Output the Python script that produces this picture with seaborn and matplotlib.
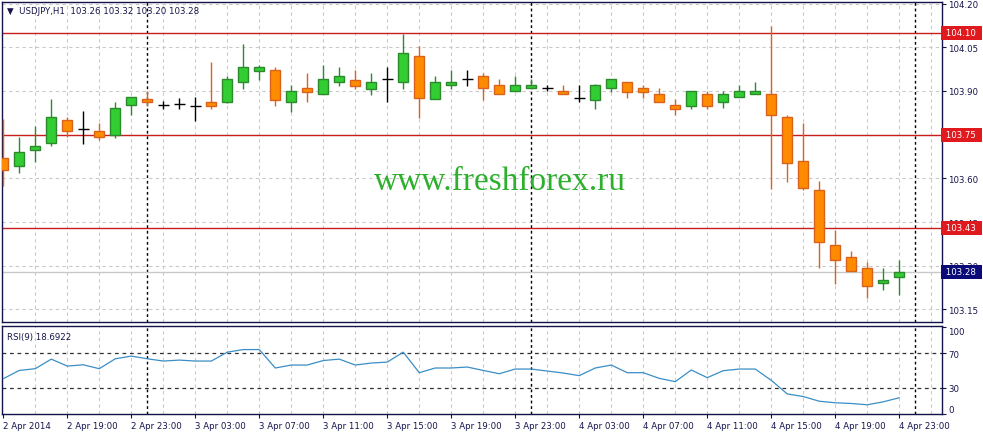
import numpy as np
import pandas as pd
import matplotlib
matplotlib.use('Agg')
import matplotlib.pyplot as plt
import seaborn as sns

# USDJPY H1, 2 Apr 2014 15:00 .. 4 Apr 2014 23:00 (57 bars)
opens = [103.669, 103.641, 103.699, 103.720, 103.800, 103.770, 103.762, 103.749, 103.851, 103.873,
         103.852, 103.855, 103.850, 103.861, 103.861, 103.930, 103.970, 103.972, 103.861, 103.909,
         103.889, 103.930, 103.939, 103.907, 103.941, 103.930, 104.019, 103.871, 103.920, 103.941,
         103.950, 103.920, 103.899, 103.909, 103.909, 103.900, 103.876, 103.870, 103.909, 103.930,
         103.909, 103.889, 103.851, 103.850, 103.889, 103.861, 103.878, 103.889, 103.889, 103.810,
         103.659, 103.559, 103.370, 103.329, 103.291, 103.240, 103.260]
highs = [103.804, 103.741, 103.781, 103.873, 103.812, 103.832, 103.790, 103.863, 103.880, 103.899,
         103.867, 103.875, 103.878, 104.001, 103.953, 104.061, 103.989, 103.981, 103.921, 103.962,
         103.989, 103.983, 103.973, 103.962, 103.981, 104.096, 104.053, 103.953, 103.973, 103.972,
         103.962, 103.941, 103.953, 103.941, 103.921, 103.921, 103.921, 103.925, 103.940, 103.930,
         103.921, 103.909, 103.871, 103.899, 103.899, 103.899, 103.921, 103.932, 104.122, 103.819,
         103.790, 103.590, 103.424, 103.350, 103.312, 103.291, 103.320]
lows = [103.575, 103.618, 103.657, 103.710, 103.741, 103.718, 103.732, 103.740, 103.819, 103.847,
        103.838, 103.838, 103.798, 103.838, 103.858, 103.907, 103.939, 103.850, 103.829, 103.861,
        103.889, 103.918, 103.907, 103.887, 103.861, 103.907, 103.808, 103.871, 103.907, 103.918,
        103.870, 103.889, 103.899, 103.909, 103.899, 103.889, 103.861, 103.838, 103.898, 103.877,
        103.877, 103.861, 103.819, 103.838, 103.838, 103.841, 103.878, 103.889, 103.564, 103.589,
        103.559, 103.291, 103.237, 103.281, 103.190, 103.218, 103.200]
closes = [103.630, 103.690, 103.711, 103.810, 103.762, 103.770, 103.741, 103.841, 103.878, 103.861,
          103.852, 103.855, 103.850, 103.850, 103.941, 103.981, 103.981, 103.870, 103.899, 103.898,
          103.941, 103.950, 103.918, 103.930, 103.941, 104.029, 103.877, 103.930, 103.930, 103.941,
          103.909, 103.889, 103.920, 103.920, 103.909, 103.889, 103.876, 103.921, 103.940, 103.898,
          103.898, 103.861, 103.839, 103.899, 103.850, 103.889, 103.899, 103.900, 103.819, 103.652,
          103.568, 103.381, 103.319, 103.281, 103.230, 103.250, 103.280]
rsi = [40.6, 50.1, 52.1, 63.1, 55.1, 56.6, 52.1, 63.5, 66.6, 63.5,
       60.9, 62.0, 60.9, 60.9, 71.1, 74.1, 74.1, 52.9, 56.3, 56.3,
       61.5, 63.1, 56.3, 58.6, 59.7, 71.1, 47.5, 52.9, 52.9, 54.0,
       50.1, 46.3, 51.7, 51.7, 49.4, 47.1, 44.1, 52.9, 56.3, 47.5,
       47.5, 41.0, 37.2, 50.6, 41.8, 49.8, 51.7, 51.7, 38.7, 23.1,
       20.1, 14.7, 12.9, 12.1, 10.6, 14.0, 18.69]

time_labels = ['2 Apr 2014', '2 Apr 19:00', '2 Apr 23:00', '3 Apr 03:00', '3 Apr 07:00',
               '3 Apr 11:00', '3 Apr 15:00', '3 Apr 19:00', '3 Apr 23:00', '4 Apr 03:00',
               '4 Apr 07:00', '4 Apr 11:00', '4 Apr 15:00', '4 Apr 19:00', '4 Apr 23:00']
grid_prices = [104.20, 104.05, 103.90, 103.75, 103.60, 103.45, 103.30, 103.15]
price_ticks = [104.20, 104.05, 103.90, 103.60, 103.45, 103.30, 103.15]  # 103.75 sits under its box
levels = [104.10, 103.75, 103.43]
bid = 103.28
day_breaks = [9, 33, 57]

df = pd.DataFrame({'open': opens, 'high': highs, 'low': lows, 'close': closes, 'rsi': rsi})
df['k'] = np.arange(len(df))

GREEN, GREEN_E = '#32cd32', '#2c8a2c'
ORANGE, ORANGE_E = '#ff8c00', '#d9631c'
NAVY = '#14144a'
GRID = '#c9c9c9'
FS = 6.2

sns.set_style('white')
plt.rcParams['font.family'] = ['DejaVu Sans']

W, H = 983, 435
fig = plt.figure(figsize=(W / 100, H / 100), dpi=100)
ax = fig.add_axes([2 / W, 1 - 323 / H, 939.5 / W, 320 / H])
ax2 = fig.add_axes([2 / W, 1 - 415 / H, 939.5 / W, 88 / H])

xmin, xmax = -0.08, 58.64
for a in (ax, ax2):
    a.set_xlim(xmin, xmax)
    for s in a.spines.values():
        s.set_color(NAVY)
        s.set_linewidth(1)
    for k in range(2, 59, 2):
        a.axvline(k, color=GRID, lw=0.8, ls=(0, (3, 3)), zorder=0)
    for k in day_breaks:
        a.axvline(k, color='black', lw=1, ls=(0, (2, 2)), zorder=1)

# main price panel
for p in grid_prices:
    ax.axhline(p, color=GRID, lw=0.8, ls=(0, (3, 3)), zorder=0)
ax.axhline(bid, color='#c8c8c8', lw=1, zorder=1)
for lv in levels:
    ax.axhline(lv, color='#c81e1e', lw=1, zorder=2)

up = df[df.close > df.open]
dn = df[df.close < df.open]
dj = df[df.close == df.open]
ax.vlines(up.k, up.low, up.high, color=GREEN_E, lw=1, zorder=3)
ax.vlines(dn.k, dn.low, dn.high, color=ORANGE_E, lw=1, zorder=3)
ax.vlines(dj.k, dj.low, dj.high, color='black', lw=1, zorder=3)
ax.bar(up.k, up.close - up.open, bottom=up.open, width=0.64,
       color=GREEN, edgecolor=GREEN_E, lw=1, zorder=4)
ax.bar(dn.k, dn.open - dn.close, bottom=dn.close, width=0.64,
       color=ORANGE, edgecolor=ORANGE_E, lw=1, zorder=4)
ax.hlines(dj.close, dj.k - 0.34, dj.k + 0.34, color='black', lw=1, zorder=4)

ax.set_ylim(103.107, 104.2055)
ax.yaxis.tick_right()
ax.set_yticks(price_ticks)
ax.set_yticklabels([f'{p:.2f}' for p in price_ticks])
ax.tick_params(axis='y', right=True, length=3, width=0.8, color=NAVY,
               labelsize=FS, labelcolor=NAVY, pad=2)
ax.tick_params(axis='x', bottom=False, labelbottom=False)

for lv, fc in [(104.10, '#e0191e'), (103.75, '#e0191e'), (103.43, '#e0191e'), (bid, '#0a0a78')]:
    ax.text(1.002, lv, f' {lv:.2f} ', transform=ax.get_yaxis_transform(), fontsize=FS,
            color='white', va='center', ha='left', clip_on=False, zorder=10,
            bbox=dict(boxstyle='square,pad=0.3', fc=fc, ec='none'))

ax.text(0.0055, 0.972, '\u25bc  USDJPY,H1  103.26 103.32 103.20 103.28', transform=ax.transAxes,
        fontsize=FS, color=NAVY, va='center', ha='left')
ax.text(0.53, 0.44, 'www.freshforex.ru', transform=ax.transAxes, fontsize=24,
        family='Liberation Serif', color='#2eb02e', ha='center', va='center', zorder=6)

# RSI panel
for lv in (70, 30):
    ax2.axhline(lv, color='#303030', lw=0.9, ls=(0, (3, 3)), zorder=1)
sns.lineplot(data=df, x='k', y='rsi', ax=ax2, color='#3b8ec6', lw=0.9, zorder=3)
ax2.set_ylim(0.6, 101.2)
ax2.set_xlabel('')
ax2.set_ylabel('')
ax2.yaxis.tick_right()
ax2.set_yticks([0, 30, 70, 100])
ax2.set_yticklabels(['0', '30', '70', '100'])
ax2.tick_params(axis='y', right=True, length=3, width=0.8, color=NAVY,
                labelsize=FS, labelcolor=NAVY, pad=2)
lbls = ax2.get_yticklabels()
lbls[0].set_va('bottom')
lbls[3].set_va('top')
ax2.set_xticks(range(0, 57, 4))
ax2.set_xticklabels(time_labels, ha='left')
ax2.tick_params(axis='x', bottom=True, length=3, width=0.8, color=NAVY,
                labelsize=FS, labelcolor=NAVY, pad=2)
ax2.text(0.0055, 0.886, 'RSI(9) 18.6922', transform=ax2.transAxes,
         fontsize=FS, color=NAVY, va='center', ha='left')

fig.savefig('out.png', dpi=100, facecolor='white')
